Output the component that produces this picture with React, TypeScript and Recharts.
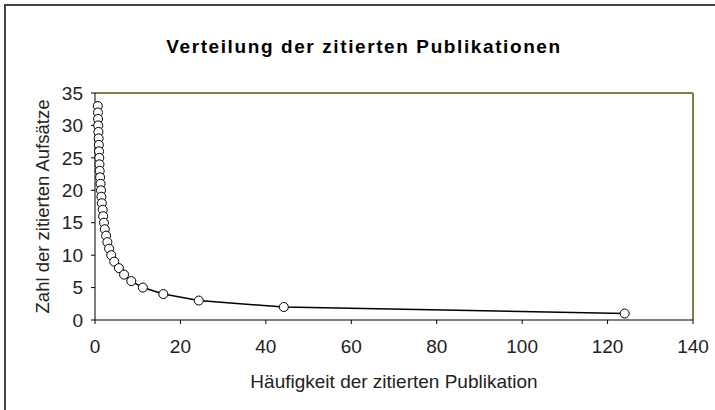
import {
  Label,
  ReferenceLine,
  Scatter,
  ScatterChart,
  XAxis,
  YAxis,
} from "recharts";

// Häufigkeit der zitierten Publikation (x) vs. Zahl der zitierten Aufsätze (y)
const haeufigkeit = [
  0.65, 0.7, 0.72, 0.75, 0.8, 0.85, 0.9, 0.95, 1.0, 1.05, 1.1, 1.2, 1.3, 1.4, 1.5, 1.6, 1.8,
  1.9, 2.1, 2.3, 2.6, 2.9, 3.3, 3.8, 4.5, 5.6, 6.8, 8.5, 11.2, 16, 24.3, 44.2, 124,
];
const aufsaetze = [
  33, 32, 31, 30, 29, 28, 27, 26, 25, 24, 23, 22, 21, 20, 19, 18, 17,
  16, 15, 14, 13, 12, 11, 10, 9, 8, 7, 6, 5, 4, 3, 2, 1,
];
const xTicks = [0, 20, 40, 60, 80, 100, 120, 140];
const yTicks = [0, 5, 10, 15, 20, 25, 30, 35];

const points = haeufigkeit.map((x, i) => ({ x, y: aufsaetze[i] }));

const font = "'Liberation Sans', Arial, sans-serif";

const Dot = (p: any) => (
  <circle cx={p.cx} cy={p.cy} r={4.5} fill="#fff" stroke="#000" strokeWidth={1} />
);

export default function App() {
  return (
    <div
      style={{
        position: "absolute",
        left: 0,
        top: 0,
        width: 715,
        height: 410,
        background: "#fff",
        fontFamily: font,
      }}
    >
      <div
        style={{
          position: "absolute",
          left: 4,
          top: 4,
          width: 711,
          height: 406,
          borderTop: "2px solid #444",
          borderLeft: "2px solid #444",
        }}
      />
      <div
        style={{
          position: "absolute",
          left: 0,
          width: 728,
          top: 36,
          textAlign: "center",
          fontWeight: "bold",
          fontSize: 19,
          letterSpacing: 1.6,
          color: "#000",
        }}
      >
        Verteilung der zitierten Publikationen
      </div>
      <ScatterChart
        width={715}
        height={410}
        margin={{ top: 93, right: 22, left: 0, bottom: 0 }}
        style={{ position: "absolute", left: 0, top: 0 }}
      >
        <XAxis
          type="number"
          dataKey="x"
          domain={[0, 140]}
          ticks={xTicks}
          height={90}
          stroke="#000"
          tickSize={4}
          tickMargin={16}
          tick={{ fontSize: 19, fill: "#222", fontFamily: font }}
        >
          <Label
            value="Häufigkeit der zitierten Publikation"
            position="insideBottom"
            offset={22}
            style={{ fontSize: 19, fill: "#222", fontFamily: font }}
          />
        </XAxis>
        <YAxis
          type="number"
          dataKey="y"
          domain={[0, 35]}
          ticks={yTicks}
          width={95}
          stroke="#000"
          tickSize={4}
          tickMargin={8}
          tick={{ fontSize: 19, fill: "#222", fontFamily: font }}
        >
          <Label
            value="Zahl der zitierten Aufsätze"
            position="insideLeft"
            angle={-90}
            offset={42}
            style={{ fontSize: 18.5, fill: "#222", fontFamily: font, textAnchor: "middle" }}
          />
        </YAxis>
        <ReferenceLine y={35} stroke="#80804a" strokeWidth={2} />
        <ReferenceLine x={140} stroke="#80804a" strokeWidth={2} />
        <Scatter
          data={points}
          line={{ stroke: "#000", strokeWidth: 1.5 }}
          shape={Dot}
          isAnimationActive={false}
        />
      </ScatterChart>
    </div>
  );
}
